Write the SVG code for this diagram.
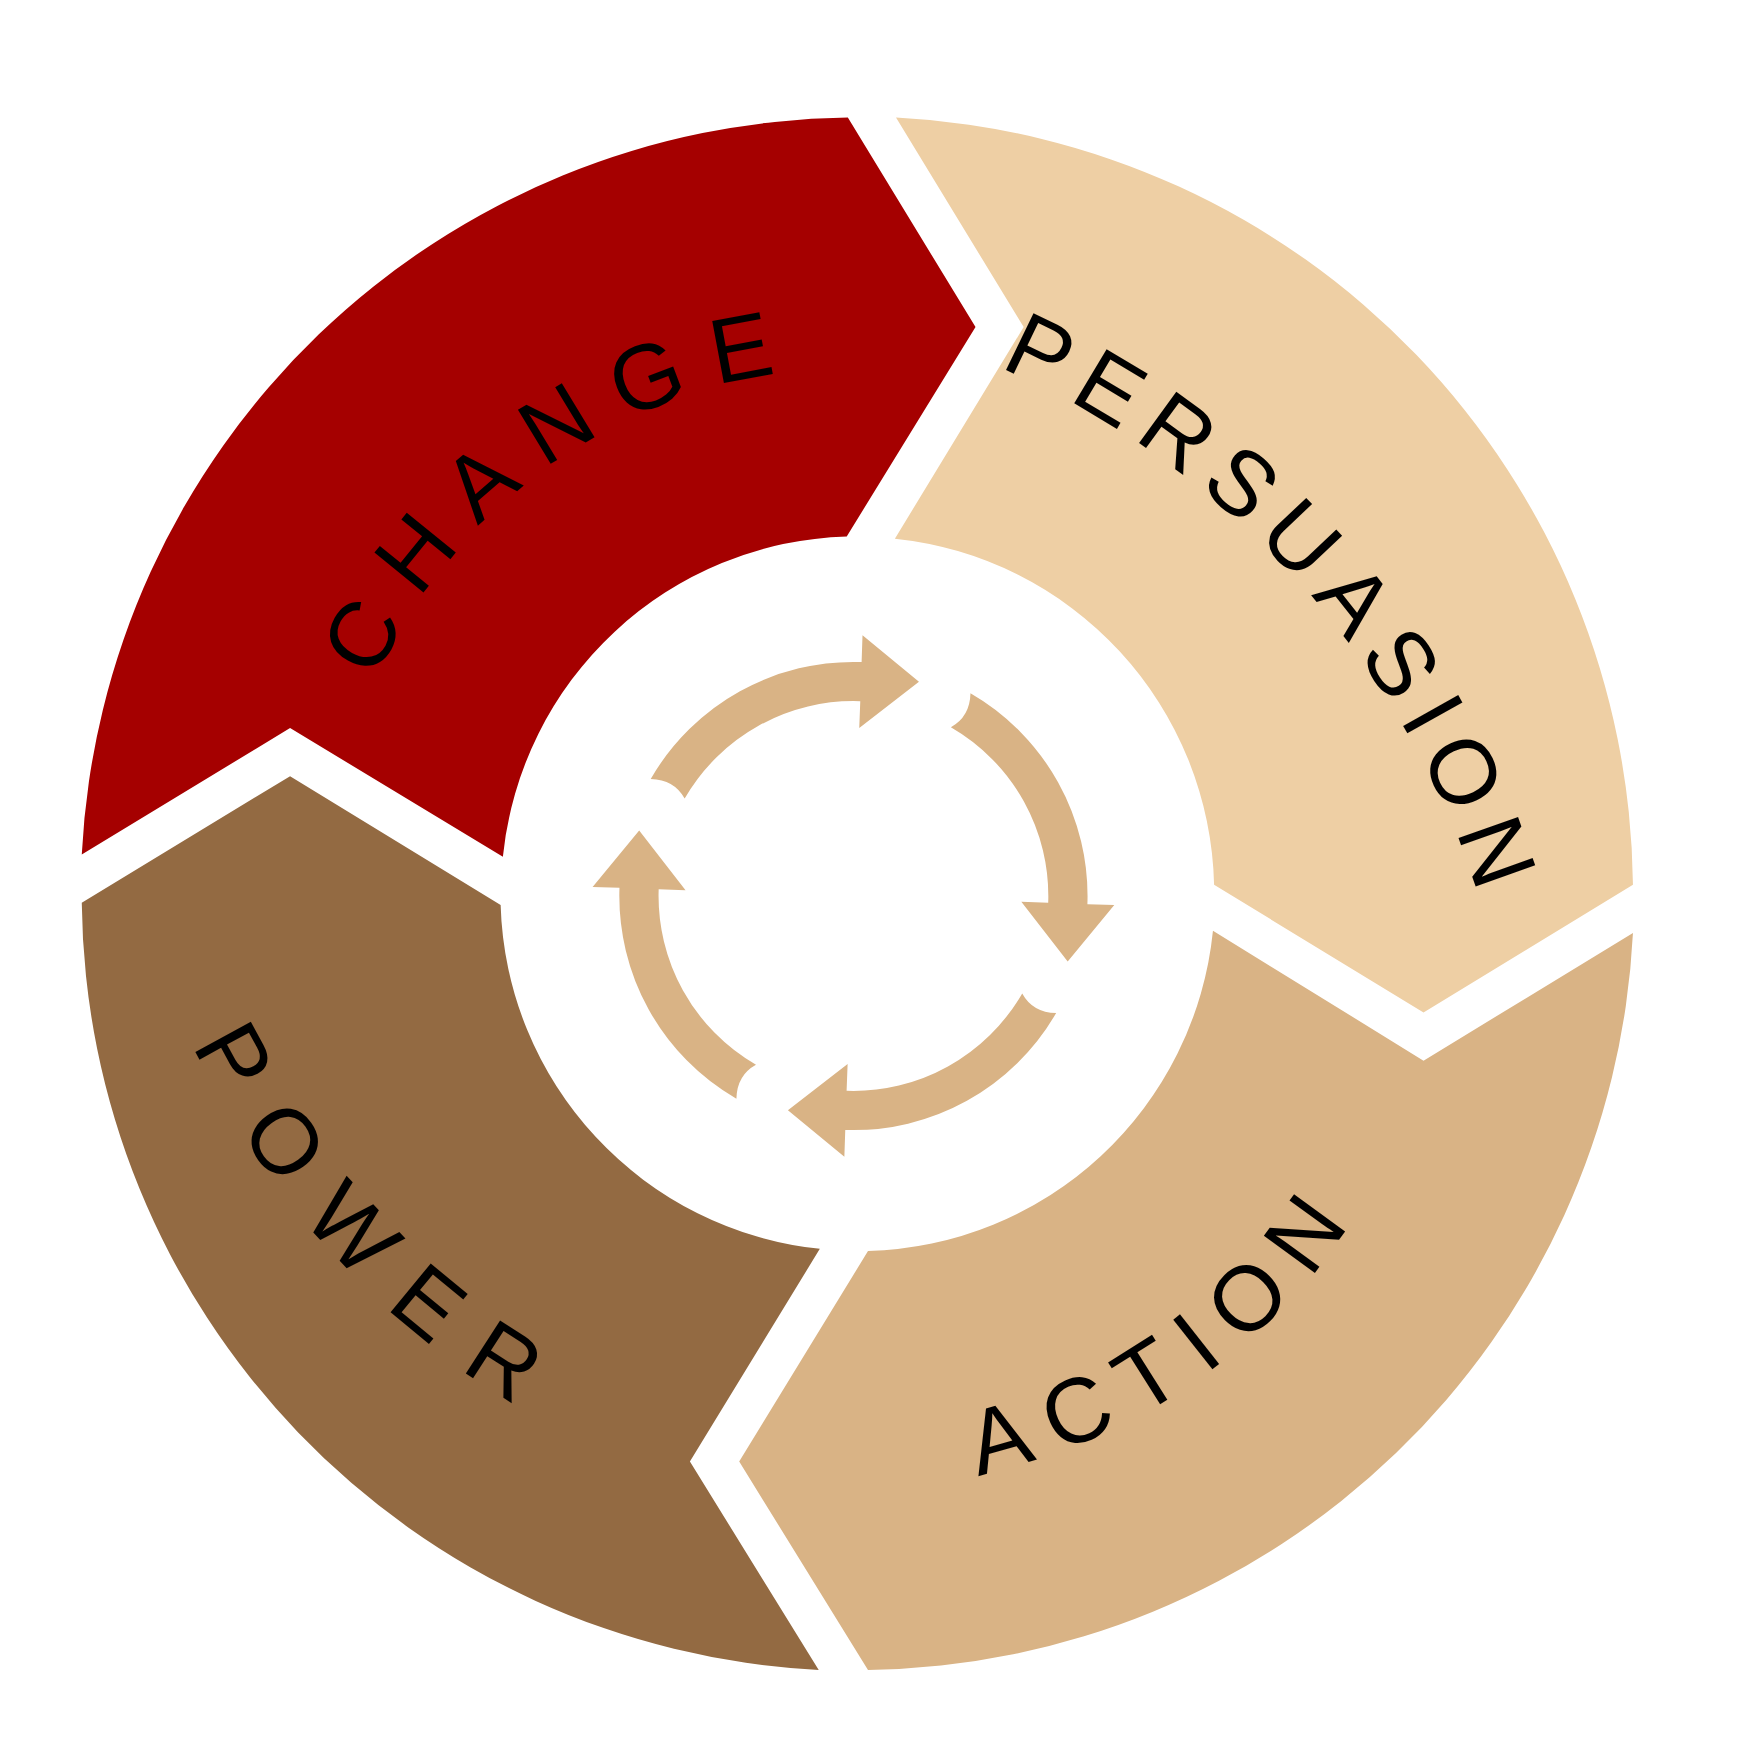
<svg xmlns="http://www.w3.org/2000/svg" width="1755" height="1755" viewBox="0 0 1755 1755">
<style>
.lbl{font-family:"Liberation Sans",Arial,sans-serif;font-size:82px;fill:#000}
.arr{fill:#d9b385}
</style>
<defs>
<path id="pChange" d="M297.6,847.1 A470,470 0 0 1 956.2,368.6" fill="none"/>
<path id="pPers" d="M433.4,282.2 A766,766 0 0 1 1317.7,1271.2" fill="none"/>
<path id="pPower" d="M132,380.2 A765,765 0 0 0 1036.2,1349.8" fill="none"/>
<path id="pAction" d="M541,1278.3 A530,530 0 0 0 1293,751.8" fill="none"/>
<path id="arrow" d="M581,695.5 A209,209 0 0 1 769.3,591.1 L770.1,567.1 L820.5,608.7 L767.2,650.1 L768.1,626.1 A174,174 0 0 0 611.3,713 Q602,696 581,695.5 Z"/>
</defs>
<rect width="1755" height="1755" fill="#fff"/>
<g transform="scale(1.12)">
<g id="change">
<path d="M73,763 A693,693 0 0 1 757,105 L871,292 L756,479 A318,318 0 0 0 449,765 L259,650 Z" fill="#a50000"/>
<text class="lbl" letter-spacing="24"><textPath href="#pChange" startOffset="50%" text-anchor="middle">CHANGE</textPath></text>
</g>
<g id="persuasion">
<path d="M800,105 A693,693 0 0 1 1458,790 L1271,904 L1084,790 A318,318 0 0 0 799,481 L914,292 Z" fill="#eecfa4"/>
<text class="lbl" letter-spacing="13"><textPath href="#pPers" startOffset="50%" text-anchor="middle">PERSUASION</textPath></text>
</g>
<g id="action">
<path d="M1458,833 A693,693 0 0 1 775,1491 L660,1305 L775,1117 A318,318 0 0 0 1083,831 L1271,947 Z" fill="#d9b385"/>
<text class="lbl" letter-spacing="20"><textPath href="#pAction" startOffset="50%" text-anchor="middle">ACTION</textPath></text>
</g>
<g id="power">
<path d="M731,1491 A693,693 0 0 1 73,806 L259,693 L447,808 A318,318 0 0 0 732,1115 L616,1305 Z" fill="#936a42"/>
<text class="lbl" letter-spacing="32"><textPath href="#pPower" startOffset="50%" text-anchor="middle">POWER</textPath></text>
</g>
<g id="cycle-arrows">
<use href="#arrow" class="arr"/>
<use href="#arrow" class="arr" transform="rotate(90 762 800)"/>
<use href="#arrow" class="arr" transform="rotate(180 762 800)"/>
<use href="#arrow" class="arr" transform="rotate(270 762 800)"/>
</g>
</g>
</svg>
